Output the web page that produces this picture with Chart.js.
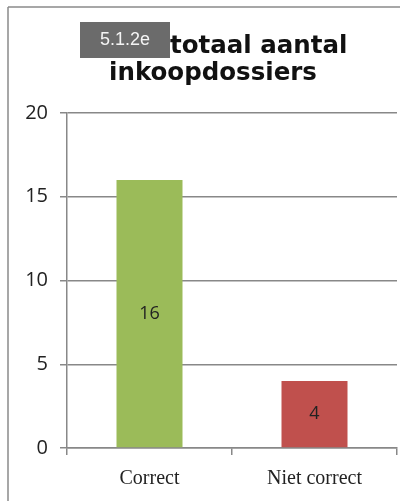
<!DOCTYPE html>
<html>
<head>
<meta charset="utf-8">
<script src="https://cdn.jsdelivr.net/npm/chart.js@4"></script>
<style>
    html, body { margin: 0; background: #fff; overflow: hidden; }
    #wrap { width: 417px; height: 501px; position: relative; overflow: hidden; }
    canvas { display: block; }
</style>
</head>
<body>
<div id="wrap"><canvas id="chart" width="417" height="501"></canvas></div>
<script>
const categories = ['Correct', 'Niet correct'];
const values = [16, 4];
const barColors = ['#9bbb59', '#c0504d'];
const yTicks = [0, 5, 10, 15, 20];
const titleLines = ['totaal aantal', 'inkoopdossiers'];
const boxLabel = '5.1.2e';

const axisGrey = '#888888';

// Rand, titel, grijs vakje en waarden in de staven
const extras = {
    id: 'extras',
    beforeDraw(chart) {
        const c = chart.ctx;
        c.save();
        c.strokeStyle = '#8a8a8a';
        c.lineWidth = 1.5;
        c.beginPath();
        c.moveTo(8, 501);
        c.lineTo(8, 7);
        c.stroke();
        c.beginPath();
        c.moveTo(8, 7);
        c.lineTo(400, 7);
        c.stroke();
        c.restore();
    },
    afterDraw(chart) {
        const c = chart.ctx;
        c.save();
        // titel (eerste regel gedeeltelijk achter het vakje)
        c.fillStyle = '#111';
        c.font = 'bold 24.5px "DejaVu Sans"';
        c.textBaseline = 'alphabetic';
        c.textAlign = 'left';
        c.fillText(titleLines[0], 170, 53);
        c.textAlign = 'center';
        c.fillText(titleLines[1], 213, 80);
        // grijs vakje over de titel
        c.fillStyle = '#6b6b6b';
        c.fillRect(80, 22, 90, 36);
        c.fillStyle = '#f4f4f4';
        c.font = '18px "Liberation Sans"';
        c.textBaseline = 'middle';
        c.fillText(boxLabel, 125, 40);
        // waarden
        const meta = chart.getDatasetMeta(0);
        c.fillStyle = '#222';
        c.font = '18px "Open Sans"';
        meta.data.forEach((bar, i) => {
            c.fillText(String(values[i]), bar.x, (bar.y + bar.base) / 2);
        });
        c.restore();
    }
};

new Chart(document.getElementById('chart'), {
    type: 'bar',
    data: {
        labels: categories,
        datasets: [{
            data: values,
            backgroundColor: barColors,
            barPercentage: 0.4,
            categoryPercentage: 1
        }]
    },
    options: {
        responsive: false,
        animation: false,
        layout: { padding: { top: 113, right: 20, bottom: 0, left: 0 } },
        scales: {
            x: {
                grid: {
                    offset: true,
                    drawOnChartArea: false,
                    color: axisGrey,
                    lineWidth: 1.5,
                    tickLength: 7
                },
                border: { color: axisGrey, width: 1.5 },
                ticks: {
                    color: '#222',
                    font: { family: 'Liberation Serif', size: 20 },
                    padding: 12
                },
                afterFit(scale) { scale.height = 53; }
            },
            y: {
                min: 0,
                max: 20,
                afterBuildTicks(scale) { scale.ticks = yTicks.map(v => ({ value: v })); },
                grid: { color: axisGrey, lineWidth: 1.5, tickLength: 7 },
                border: { color: axisGrey, width: 1.5 },
                ticks: {
                    color: '#222',
                    font: { family: 'Open Sans', size: 20 },
                    padding: 12
                },
                afterFit(scale) { scale.width = 67; }
            }
        },
        plugins: {
            legend: { display: false },
            tooltip: { enabled: false },
            title: { display: false }
        }
    },
    plugins: [extras]
});
</script>
</body>
</html>
